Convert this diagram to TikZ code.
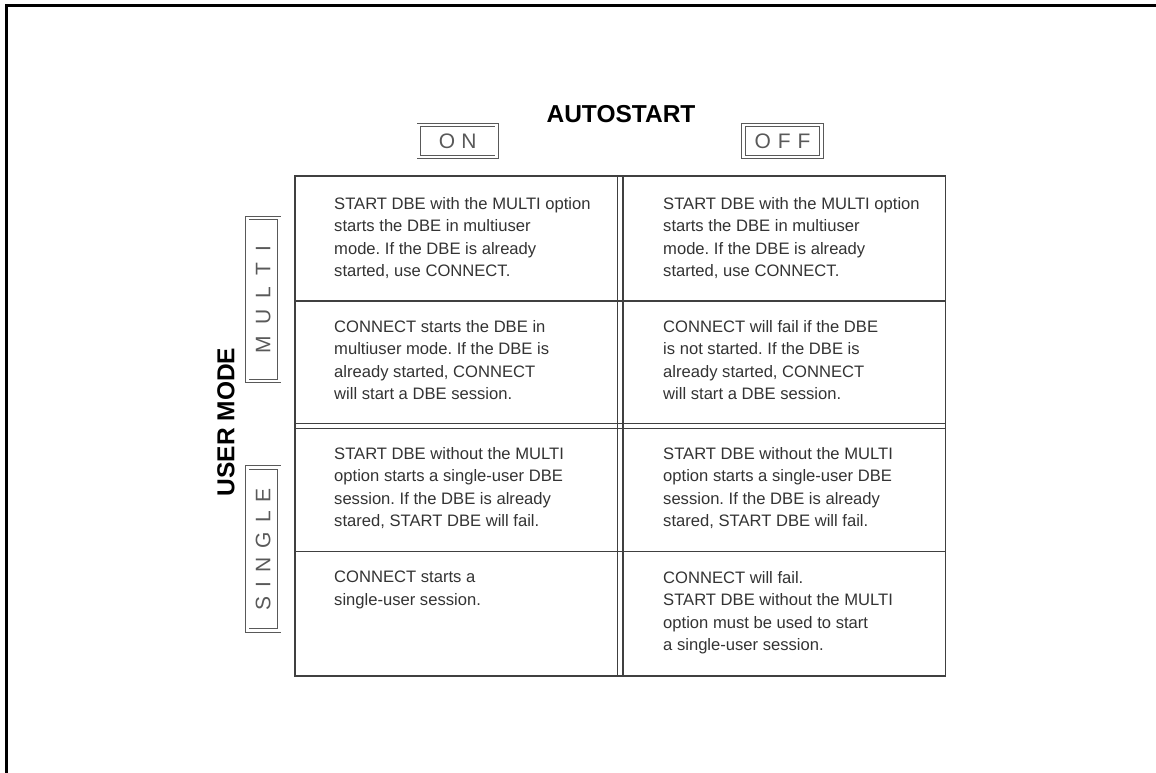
\documentclass[tikz,border=0pt]{standalone}
\usepackage{fontspec}
\setmainfont{Liberation Sans}
\frenchspacing
\begin{document}
\begin{tikzpicture}[x=1pt,y=-1pt,
  frameline/.style={line width=3.3pt,line join=miter},
  gridline/.style={draw=black!75,line width=1.1pt},
  celltext/.style={anchor=north west,inner sep=0pt,align=left,text=black!80,
    font=\fontsize{16.6}{22.4}\selectfont},
  keybox/.style={draw=black!65,line width=0.8pt,double=white,double distance=2.6pt,
    inner sep=0pt,text=black!65,font=\fontsize{21}{21}\selectfont},
  heading/.style={inner sep=0pt,font=\bfseries\fontsize{24.5}{24.5}\selectfont}]
\useasboundingbox (0,0) rectangle (1156,773);
% frame
\draw[frameline] (6.5,773) -- (6.5,5.5) -- (1156,5.5);
% headings
\node[heading] (autostart) at (621,114.5) {AUTOSTART};
\node[heading,rotate=90] (usermode) at (226,422) {USER MODE};
% key boxes
\node[keybox,minimum width=78pt,minimum height=32pt] (on) at (457.7,141) {O\hspace{6pt}N};
\node[keybox,minimum width=78pt,minimum height=32pt] (off) at (782.5,141) {O\hspace{7pt}F\hspace{7pt}F};
\node[keybox,rotate=90,minimum width=163pt,minimum height=32pt] (multi) at (263.2,299.5) {M\hspace{11pt}U\hspace{11pt}L\hspace{11pt}T\hspace{11pt}I};
\node[keybox,rotate=90,minimum width=163pt,minimum height=32pt] (single) at (263.2,549) {S\hspace{9pt}I\hspace{9pt}N\hspace{9pt}G\hspace{9pt}L\hspace{9pt}E};
% table
\draw[gridline] (295,176) rectangle (945.5,676);
\draw[gridline] (617.3,176) -- (617.3,676);
\draw[gridline] (623,176) -- (623,676);
\draw[gridline] (295,301) -- (945.5,301);
\draw[gridline] (295,423.3) -- (945.5,423.3);
\draw[gridline] (295,428.8) -- (945.5,428.8);
\draw[gridline] (295,551.3) -- (945.5,551.3);
% cell texts
\node[celltext] (c11) at (334,197) {START DBE with the MULTI option\\starts the DBE in multiuser\\mode. If the DBE is already\\started, use CONNECT.};
\node[celltext] (c12) at (663,197) {START DBE with the MULTI option\\starts the DBE in multiuser\\mode. If the DBE is already\\started, use CONNECT.};
\node[celltext] (c21) at (334,320) {CONNECT starts the DBE in\\multiuser mode. If the DBE is\\already started, CONNECT\\will start a DBE session.};
\node[celltext] (c22) at (663,320) {CONNECT will fail if the DBE\\is not started. If the DBE is\\already started, CONNECT\\will start a DBE session.};
\node[celltext] (c31) at (334,447) {START DBE without the MULTI\\option starts a single-user DBE\\session. If the DBE is already\\stared, START DBE will fail.};
\node[celltext] (c32) at (663,447) {START DBE without the MULTI\\option starts a single-user DBE\\session. If the DBE is already\\stared, START DBE will fail.};
\node[celltext] (c41) at (334,571) {CONNECT starts a\\single-user session.};
\node[celltext] (c42) at (663,571) {CONNECT will fail.\\START DBE without the MULTI\\option must be used to start\\a single-user session.};
\end{tikzpicture}
\end{document}
